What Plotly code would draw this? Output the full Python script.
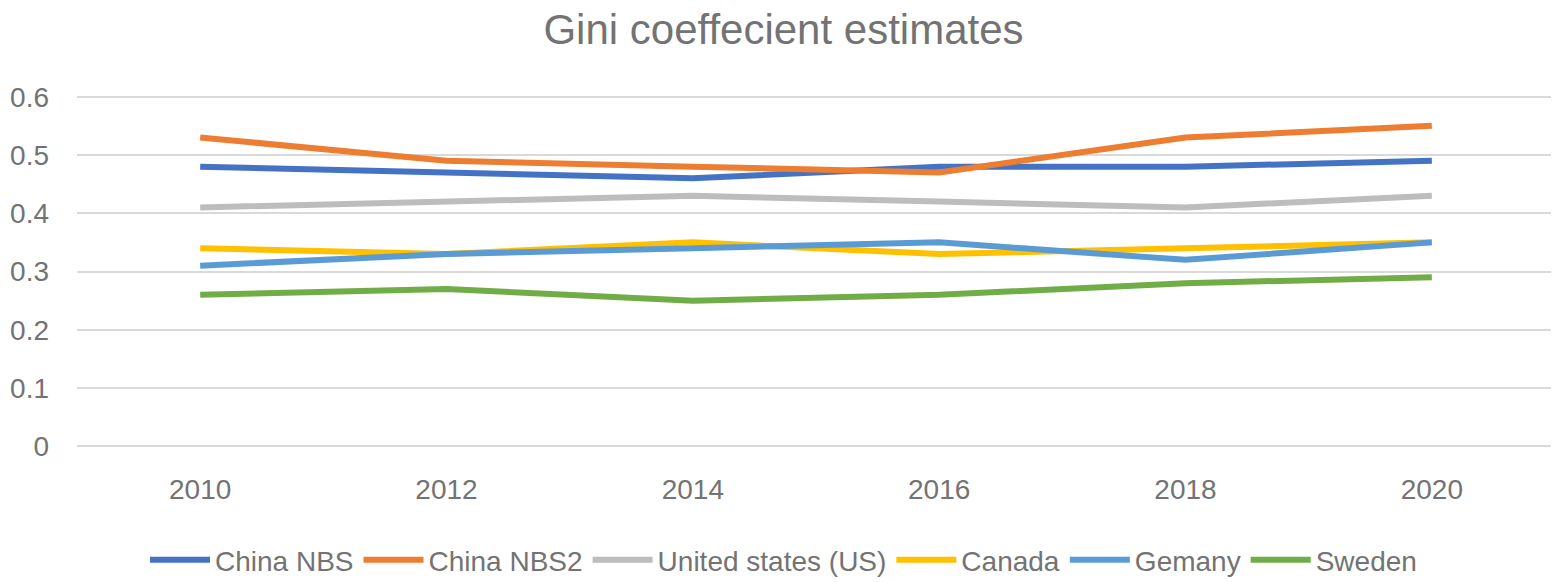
import plotly.graph_objects as go

years = ["2010", "2012", "2014", "2016", "2018", "2020"]

china_nbs = [0.48, 0.47, 0.46, 0.48, 0.48, 0.49]
china_nbs2 = [0.53, 0.49, 0.48, 0.47, 0.53, 0.55]
united_states = [0.41, 0.42, 0.43, 0.42, 0.41, 0.43]
canada = [0.34, 0.33, 0.35, 0.33, 0.34, 0.35]
germany = [0.31, 0.33, 0.34, 0.35, 0.32, 0.35]
sweden = [0.26, 0.27, 0.25, 0.26, 0.28, 0.29]

series = [
    ("China NBS", china_nbs, "#4472C4"),
    ("China NBS2", china_nbs2, "#ED7D31"),
    ("United states (US)", united_states, "#BDBDBD"),
    ("Canada", canada, "#FFC000"),
    ("Gemany", germany, "#5B9BD5"),
    ("Sweden", sweden, "#70AD47"),
]

font_family = "Liberation Sans, Arial, sans-serif"
text_col = "#737373"

# the page body adds an 8px margin, so the figure is a bit smaller than the window
W, H = 1551, 574

fig = go.Figure()
for name, vals, col in series:
    fig.add_trace(go.Scatter(
        x=years, y=vals, name=name, mode="lines",
        line=dict(color=col, width=6),
    ))

fig.update_layout(
    width=W, height=H,
    paper_bgcolor="white", plot_bgcolor="white",
    margin=dict(l=69, r=4, t=87, b=134),
    title=dict(
        text="Gini coeffecient estimates",
        x=0.5, xref="container", xanchor="center",
        y=1, yanchor="top", pad=dict(t=7),
        font=dict(family=font_family, size=42, color=text_col),
    ),
    font=dict(family=font_family, color=text_col, size=28),
    showlegend=True,
    legend=dict(
        orientation="h", x=0.5, xref="container", xanchor="center",
        y=22 / H, yref="container", yanchor="middle",
        font=dict(size=28, color=text_col),
        itemwidth=60, tracegroupgap=0,
    ),
    xaxis=dict(
        type="category", range=[-0.5, 5.5], automargin=False,
        showgrid=False, showline=False, zeroline=False,
        ticks="", ticklabelstandoff=22,
        tickfont=dict(size=28, color=text_col),
    ),
    yaxis=dict(
        range=[-0.003, 0.603], automargin=False,
        showgrid=True, gridcolor="#D9D9D9", gridwidth=2,
        zeroline=False, showline=False, ticks="",
        ticklabelstandoff=27,
        tickvals=[0, 0.1, 0.2, 0.3, 0.4, 0.5, 0.6],
        ticktext=["0", "0.1", "0.2", "0.3", "0.4", "0.5", "0.6"],
        tickfont=dict(size=28, color=text_col),
    ),
)

fig.write_html("out.html")
